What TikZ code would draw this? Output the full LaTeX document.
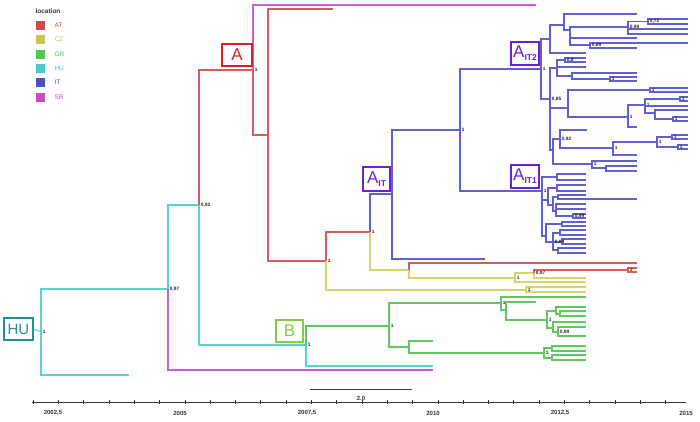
\documentclass[tikz,border=0pt]{standalone}
\usepackage{fontspec}
\setmainfont{Liberation Sans}
\definecolor{redL}{RGB}{214,92,92}
\definecolor{yelL}{RGB}{214,212,112}
\definecolor{grnL}{RGB}{96,200,96}
\definecolor{cyaL}{RGB}{90,210,210}
\definecolor{bluL}{RGB}{96,96,206}
\definecolor{magL}{RGB}{204,92,214}
\definecolor{legAT}{RGB}{206,76,76}
\definecolor{legCZ}{RGB}{200,198,78}
\definecolor{legGR}{RGB}{78,200,78}
\definecolor{legHU}{RGB}{78,200,200}
\definecolor{legIT}{RGB}{78,78,200}
\definecolor{legSR}{RGB}{200,78,200}
\definecolor{boxA}{RGB}{222,30,40}
\definecolor{boxHU}{RGB}{40,140,160}
\definecolor{boxB}{RGB}{140,200,70}
\definecolor{boxIT}{RGB}{110,30,215}
\newcounter{lfc}
\newcommand\tb[5]{\coordinate (#3) at (#4,#5); \draw[#1] (#2) |- (#3);}
\newcommand\lf[4]{\stepcounter{lfc}\coordinate (L\arabic{lfc}) at (#3,#4); \draw[#1] (#2) |- (L\arabic{lfc});}
\newcommand\lb[2]{\node[lab] at (#1) {#2};}
\begin{document}
\begin{tikzpicture}[x=1pt,y=-1pt,line width=1.05pt,
  rd/.style={draw=redL}, yl/.style={draw=yelL}, gr/.style={draw=grnL},
  cyn/.style={draw=cyaL}, bl/.style={draw=bluL}, mg/.style={draw=magL},
  lab/.style={anchor=west,inner sep=0.6pt,xshift=0.8pt,font=\fontsize{4.8}{5}\selectfont\bfseries,text=black!85},
  cbox/.style={draw,line width=1.6pt,inner sep=0pt,font=\fontsize{17}{17}\selectfont},
  leg/.style={anchor=west,inner sep=0pt,font=\fontsize{6.5}{7}\selectfont},
  axl/.style={font=\fontsize{6}{7}\selectfont\bfseries,text=black!80,inner sep=0pt}]
\fill[white] (0,0) rectangle (700,421);
\useasboundingbox (0,0) rectangle (700,421);
% legend
\node[leg,font=\fontsize{6.5}{7}\selectfont\bfseries,text=black!80] (legt) at (35,11) {location};
\foreach \c/\t/\y in {legAT/AT/25,legCZ/CZ/39.5,legGR/GR/54,legHU/HU/68,legIT/IT/82.5,legSR/SR/97}{
  \fill[\c] (36,\y-4.5) rectangle (45,\y+4.5);
  \node[leg,text=\c] (leg\t) at (54,\y) {\t};
}
% root
\coordinate (root) at (41,332);
\tb{cyn}{root}{n97}{168}{289}
\lf{cyn}{root}{129}{375}
\lb{root}{1}\lb{n97}{0,97}
\tb{cyn}{n97}{n92}{199}{205}
\lf{mg}{n97}{433}{370}
\lb{n92}{0,92}
\tb{rd}{n92}{nA}{253}{70}
\tb{cyn}{n92}{nB0}{306}{345}
\lb{nA}{1}
\lf{mg}{nA}{536}{5}
\tb{rd}{nA}{nA2}{268}{135}
\lf{rd}{nA2}{333}{9}
\tb{rd}{nA2}{nA3}{326}{261}
\lb{nA3}{1}
\tb{rd}{nA3}{nA4}{370}{232}
\tb{yl}{nA3}{nC1}{526}{290}
\lb{nA4}{1}
\tb{bl}{nA4}{nIT}{392}{194}
\tb{yl}{nA4}{nC2}{409}{270}
\tb{bl}{nIT}{nIT0}{460}{130}
\lf{bl}{nIT}{485}{259}
\lb{nIT0}{1}
\tb{bl}{nIT0}{nIT2}{541}{69}
\tb{bl}{nIT0}{nIT1}{542}{191}
% CZ / AT part
\lf{rd}{nC2}{637}{263}
\tb{yl}{nC2}{nC3}{515}{278}
\lb{nC3}{1}
\tb{yl}{nC3}{nC4}{534}{273}
\lf{yl}{nC3}{586}{282}
\lb{nC4}{0,97}
\tb{rd}{nC4}{nC5}{628}{270}
\lf{yl}{nC4}{586}{278}
\lf{rd}{nC5}{637}{268}\lf{rd}{nC5}{637}{272}
\lb{nC5}{1}
\lf{yl}{nC1}{586}{287}\lf{yl}{nC1}{586}{292}
\lb{nC1}{1}
% B clade
\lb{nB0}{1}
\tb{gr}{nB0}{nB}{389}{326}
\lf{cyn}{nB0}{433}{366}
\lb{nB}{1}
\tb{gr}{nB}{nB1}{501}{303}
\tb{gr}{nB}{nB2}{409}{347}
\lb{nB1}{1}
\lf{gr}{nB1}{586}{297}
\tb{gr}{nB1}{nB3}{506}{310}
\lf{gr}{nB3}{536}{302}
\tb{gr}{nB3}{nB4}{547}{320}
\lb{nB4}{1}
\tb{gr}{nB4}{nB5}{556}{311}
\tb{gr}{nB4}{nB6}{553}{328}
\lf{gr}{nB5}{586}{307}
\tb{gr}{nB5}{nB5a}{560}{314}
\lf{gr}{nB5a}{586}{311}\lf{gr}{nB5a}{586}{316}
\lf{gr}{nB6}{586}{322}
\tb{gr}{nB6}{nB6a}{558}{332}
\lb{nB6a}{0,99}
\lf{gr}{nB6a}{586}{327}\lf{gr}{nB6a}{586}{336}
\lf{gr}{nB2}{433}{341}
\tb{gr}{nB2}{nB7}{544}{353}
\lb{nB7}{1}
\tb{gr}{nB7}{nB7a}{552}{348}
\tb{gr}{nB7}{nB7b}{552}{358}
\lf{gr}{nB7a}{586}{346}\lf{gr}{nB7a}{586}{351}
\lf{gr}{nB7b}{586}{355}\lf{gr}{nB7b}{586}{360}
% A_IT2 cluster
\lb{nIT2}{1}
\tb{bl}{nIT2}{u1}{550}{39}
\tb{bl}{nIT2}{u2}{550}{99}
\tb{bl}{u1}{u11}{564}{25}
\lf{bl}{u1}{586}{53}
\lf{bl}{u11}{637}{14}
\tb{bl}{u11}{u112}{570}{30}
\tb{bl}{u112}{u1121}{628}{27}
\lf{bl}{u112}{637}{38}
\tb{bl}{u112}{u1123}{590}{45}
\lb{u1121}{0,99}
\tb{bl}{u1121}{u11211}{648}{21.5}
\lf{bl}{u1121}{688}{29}\lf{bl}{u1121}{688}{34}
\lf{bl}{u11211}{688}{19}\lf{bl}{u11211}{688}{24}
\lb{u11211}{0,72}
\lf{bl}{u1123}{688}{43}\lf{bl}{u1123}{637}{48}
\lb{u1123}{0,89}
\lb{u2}{0,85}
\tb{bl}{u2}{u21}{557}{68}
\tb{bl}{u2}{u22}{568}{108}
\tb{bl}{u2}{u23}{553}{150}
\tb{bl}{u21}{u211}{565}{60}
\lf{bl}{u21}{586}{67}
\tb{bl}{u21}{u213}{572}{76}
\lf{bl}{u211}{586}{58}\lf{bl}{u211}{586}{62}
\lb{u211}{0,8}
\lf{bl}{u213}{637}{73}
\tb{bl}{u213}{u2132}{610}{79}
\lf{bl}{u2132}{637}{77}\lf{bl}{u2132}{637}{81}
\lb{u2132}{1}
\tb{bl}{u22}{u221}{650}{90}
\lf{bl}{u221}{688}{88}\lf{bl}{u221}{688}{92}
\lb{u221}{1}
\tb{bl}{u22}{u222}{628}{117}
\lb{u222}{1}
\tb{bl}{u222}{u2221}{645}{105}
\lf{bl}{u222}{637}{127}
\lb{u2221}{1}
\tb{bl}{u2221}{u22211}{680}{99}
\lf{bl}{u22211}{688}{97}\lf{bl}{u22211}{688}{101}
\lb{u22211}{1}
\lf{bl}{u2221}{688}{106}
\tb{bl}{u2221}{u22213}{655}{113}
\lf{bl}{u22213}{688}{110}
\tb{bl}{u22213}{u222132}{673}{119}
\lf{bl}{u222132}{688}{117}\lf{bl}{u222132}{688}{121}
\lb{u222132}{1}
\tb{bl}{u23}{u231}{560}{139}
\tb{bl}{u23}{u232}{592}{164}
\lb{u231}{0,92}
\lf{bl}{u231}{587}{130}
\tb{bl}{u231}{u2312}{613}{148}
\lb{u2312}{1}
\tb{bl}{u2312}{u23121}{657}{142}
\lf{bl}{u2312}{637}{155}
\lb{u23121}{1}
\tb{bl}{u23121}{w1}{672}{137}
\tb{bl}{u23121}{w2}{678}{147}
\lf{bl}{w1}{688}{135}\lf{bl}{w1}{688}{139}
\lf{bl}{w2}{688}{145}\lf{bl}{w2}{688}{149}
\lb{w1}{1}\lb{w2}{1}
\lb{u232}{1}
\lf{bl}{u232}{637}{161}
\tb{bl}{u232}{u2322}{606}{168}
\lf{bl}{u2322}{637}{166}\lf{bl}{u2322}{637}{171}
% A_IT1 cluster
\lb{nIT1}{1}
\tb{bl}{nIT1}{v1}{557}{177}
\tb{bl}{nIT1}{v2}{548}{200}
\tb{bl}{nIT1}{v3}{546}{236}
\lf{bl}{v1}{586}{174}\lf{bl}{v1}{586}{180}
\tb{bl}{v2}{v21}{557}{188}
\tb{bl}{v2}{v22}{553}{205}
\lf{bl}{v21}{586}{185}\lf{bl}{v21}{586}{191}
\tb{bl}{v22}{v221}{558}{197}
\tb{bl}{v22}{v222}{556}{211}
\lf{bl}{v221}{586}{195}\lf{bl}{v221}{637}{199}
\lf{bl}{v222}{586}{204}\lf{bl}{v222}{586}{209}
\tb{bl}{v222}{v2223}{573}{216}
\lf{bl}{v2223}{586}{214}\lf{bl}{v2223}{586}{218}
\lb{v2223}{0,99}
\tb{bl}{v3}{v31}{562}{224}
\tb{bl}{v3}{v32}{553}{242}
\lf{bl}{v31}{586}{222}\lf{bl}{v31}{586}{226}
\tb{bl}{v32}{v321}{560}{233}
\tb{bl}{v32}{v322}{562}{242}
\tb{bl}{v32}{v323}{558}{250}
\lf{bl}{v321}{586}{230}\lf{bl}{v321}{586}{235}
\lf{bl}{v322}{586}{239}\lf{bl}{v322}{586}{244}
\lf{bl}{v323}{586}{248}\lf{bl}{v323}{586}{253}
\lb{v32}{0,99}
% clade boxes
\node[cbox,draw=boxA,text=boxA,minimum width=30pt,minimum height=22pt] (bA) at (237,55) {A};
\node[cbox,draw=boxHU,text=boxHU,minimum width=29pt,minimum height=22pt,font=\fontsize{15}{15}\selectfont] (bHU) at (18.5,329) {HU};
\draw[cyn] (bHU.east) -- (root);
\node[cbox,draw=boxB,text=boxB,minimum width=27pt,minimum height=22pt] (bB) at (289.5,331) {B};
\node[cbox,draw=boxIT,text=boxIT,minimum width=27pt,minimum height=24pt] (bIT) at (376.5,179) {A\raisebox{-0.35ex}{\fontsize{8.5}{9}\selectfont\bfseries IT}};
\node[cbox,draw=boxIT,text=boxIT,minimum width=28pt,minimum height=23pt] (bIT2) at (525,53.5) {A\raisebox{-0.35ex}{\fontsize{8.5}{9}\selectfont\bfseries IT2}};
\node[cbox,draw=boxIT,text=boxIT,minimum width=28pt,minimum height=23pt] (bIT1) at (525,176.5) {A\raisebox{-0.35ex}{\fontsize{8.5}{9}\selectfont\bfseries IT1}};
% scale bar
\draw[black!75,line width=0.9pt] (310,389) -- (412,389);
\node[axl] (sbl) at (361,398) {2.0};
% axis
\draw[black!80,line width=0.8pt] (32,402) -- (686,402);
\foreach \i in {0,...,25}{\draw[black!80,line width=0.6pt] (33+25.3*\i,400) -- (33+25.3*\i,404);}
\foreach \t/\x in {{2002,5}/53,{2005}/180,{2007,5}/307,{2010}/433,{2012,5}/560,{2015}/686}{
  \node[axl] at (\x,413) {\t};
}
\end{tikzpicture}
\end{document}
